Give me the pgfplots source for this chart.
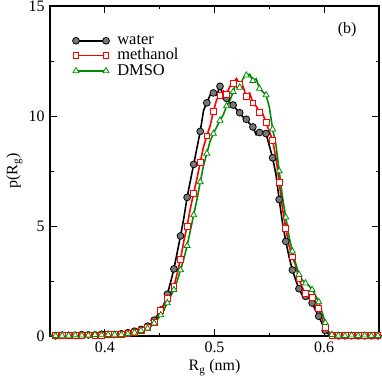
\documentclass[border=0pt]{standalone}
\usepackage{fontspec}
\setmainfont{Liberation Serif}
\usepackage{pgfplots}
\pgfplotsset{compat=1.18}
\usepackage{pgfplotstable}
\usetikzlibrary{calc}
\definecolor{mgreen}{RGB}{0,139,0}
\definecolor{mgray}{RGB}{120,120,120}

% x = 0.349 + 0.003k ; marks on every second point
\pgfplotstableread{
x      w      m      d
0.349  0.02   0.03   0.02
0.352  0.03   0.01   0.03
0.355  0.01   0.02   0.01
0.358  0.02   0.01   0.03
0.361  0.04   0.03   0.02
0.364  0.02   0.01   0.04
0.367  0.03   0.02   0.02
0.370  0.05   0.03   0.03
0.373  0.03   0.02   0.04
0.376  0.04   0.04   0.02
0.379  0.06   0.02   0.03
0.382  0.04   0.03   0.05
0.385  0.05   0.05   0.03
0.388  0.07   0.03   0.04
0.391  0.05   0.04   0.06
0.394  0.06   0.06   0.04
0.397  0.08   0.04   0.05
0.400  0.06   0.05   0.04
0.403  0.07   0.07   0.06
0.406  0.09   0.05   0.05
0.409  0.07   0.06   0.07
0.412  0.08   0.07   0.05
0.415  0.10   0.08   0.06
0.418  0.12   0.10   0.08
0.421  0.15   0.12   0.10
0.424  0.18   0.15   0.13
0.427  0.22   0.18   0.16
0.430  0.26   0.22   0.20
0.433  0.30   0.26   0.24
0.436  0.36   0.30   0.28
0.439  0.45   0.38   0.35
0.442  0.55   0.48   0.45
0.445  0.72   0.62   0.58
0.448  0.95   0.85   0.75
0.451  1.18   1.15   0.95
0.454  1.45   1.40   1.20
0.457  1.90   1.70   1.50
0.460  2.45   1.95   1.80
0.463  3.05   2.25   2.10
0.466  3.80   2.85   2.50
0.469  4.55   3.50   3.00
0.472  5.35   4.30   3.50
0.475  6.30   5.00   4.10
0.478  7.05   5.80   4.80
0.481  7.80   6.50   5.50
0.484  8.55   7.15   6.20
0.487  9.30   7.90   7.00
0.490  10.25  8.60   7.75
0.493  10.60  9.10   8.30
0.496  10.95  9.55   8.85
0.499  11.05  10.20  9.20
0.502  10.95  10.75  9.50
0.505  11.35  10.95  9.80
0.508  10.85  11.15  10.05
0.511  10.80  11.00  10.45
0.514  10.60  11.35  10.70
0.517  10.50  11.50  11.10
0.520  10.30  11.70  11.55
0.523  10.15  11.45  11.30
0.526  9.95   11.35  11.70
0.529  9.85   10.90  11.85
0.532  9.65   11.05  11.90
0.535  9.50   10.60  11.60
0.538  9.15   10.45  11.70
0.541  9.25   10.15  11.25
0.544  9.30   10.10  11.10
0.547  9.20   9.70   10.95
0.550  8.65   9.30   10.40
0.553  8.10   8.90   9.40
0.556  7.35   8.10   8.70
0.559  6.20   7.00   7.50
0.562  5.15   5.80   6.30
0.565  4.30   4.90   5.40
0.568  3.60   4.10   4.50
0.571  3.00   3.60   3.85
0.574  2.55   3.20   3.30
0.577  2.15   2.60   2.80
0.580  1.85   2.20   2.55
0.583  1.80   1.95   2.40
0.586  1.72   1.90   2.30
0.589  1.50   1.75   2.10
0.592  1.18   1.55   1.85
0.595  0.90   1.25   1.55
0.598  0.58   0.80   1.10
0.601  0.25   0.40   0.60
0.604  0.08   0.12   0.20
0.607  0.03   0.04   0.06
0.610  0.02   0.02   0.03
0.613  0.01   0.03   0.02
0.616  0.02   0.01   0.03
0.619  0.01   0.02   0.01
0.622  0.02   0.01   0.02
0.625  0.01   0.02   0.03
0.628  0.02   0.01   0.02
0.631  0.01   0.02   0.01
0.634  0.02   0.01   0.02
0.637  0.01   0.02   0.03
0.640  0.02   0.01   0.02
0.643  0.01   0.02   0.01
0.646  0.02   0.01   0.02
0.649  0.01   0.02   0.01
0.652  0.02   0.01   0.02
}\rgdata

\begin{document}
\fontsize{16}{19}\selectfont
\begin{tikzpicture}
\begin{axis}[
  name=ax,
  scale only axis,
  width=329bp, height=330bp,
  xmin=0.35, xmax=0.65,
  ymin=0, ymax=15,
  xtick={0.4,0.5,0.6},
  minor xtick={0.35,0.45,0.55,0.65},
  ytick={0,5,10,15},
  minor ytick={2.5,7.5,12.5},
  tick align=inside,
  major tick length=7bp,
  minor tick length=3.5bp,
  every tick/.style={black, line width=0.9pt},
  axis line style={line width=1.3pt},
  xticklabel style={/pgf/number format/fixed, /pgf/number format/precision=1},
  /pgf/number format/assume math mode=true,
  tick label style={font=\fontsize{16}{19}\selectfont},
  xlabel={R$_\mathrm{g}$ (nm)},
  ylabel={p(R$_\mathrm{g}$)},
  label style={font=\fontsize{17}{20}\selectfont},
  every axis x label/.style={at={(axis description cs:0.5,-0.106)}, anchor=base},
  every axis y label/.style={at={(axis description cs:-0.099,0.5)}, anchor=base, rotate=90},
  legend cell align=left,
  legend style={at={(axis description cs:0.065,0.922)}, anchor=north west,
    draw=none, fill=none, font=\fontsize{16.5}{16.5}\selectfont,
    row sep=-2bp, column sep=6bp, inner sep=1bp},
  legend image code/.code={%
    \draw[#1, mark repeat=1, mark phase=1] plot coordinates {(0bp,0bp) (30bp,0bp)};},
  clip=true,
]
  \addplot[black, line width=1.6pt, mark=*, mark size=3.4bp, mark repeat=2, mark phase=2,
    mark options={fill=mgray, draw=black, line width=0.8pt}]
    table[x=x, y=w] {\rgdata};
  \addlegendentry{water}

  \addplot[red, line width=1.6pt, mark=square*, mark size=2.9bp, mark repeat=2, mark phase=2,
    mark options={fill=white, draw=red, line width=0.8pt}]
    table[x=x, y=m] {\rgdata};
  \addlegendentry{methanol}

  \addplot[mgreen, line width=1.6pt, mark=triangle*, mark size=3.5bp, mark repeat=2, mark phase=2,
    mark options={fill=white, draw=mgreen, line width=0.8pt}]
    table[x=x, y=d] {\rgdata};
  \addlegendentry{DMSO}

  \node[anchor=base east, font=\fontsize{16}{19}\selectfont]
    at (axis description cs:0.948,0.918) {(b)};
\end{axis}
\pgfresetboundingbox
\useasboundingbox ($(ax.south west)+(-50bp,-45bp)$) rectangle ($(ax.north east)+(3bp,6bp)$);
\end{tikzpicture}
\end{document}
